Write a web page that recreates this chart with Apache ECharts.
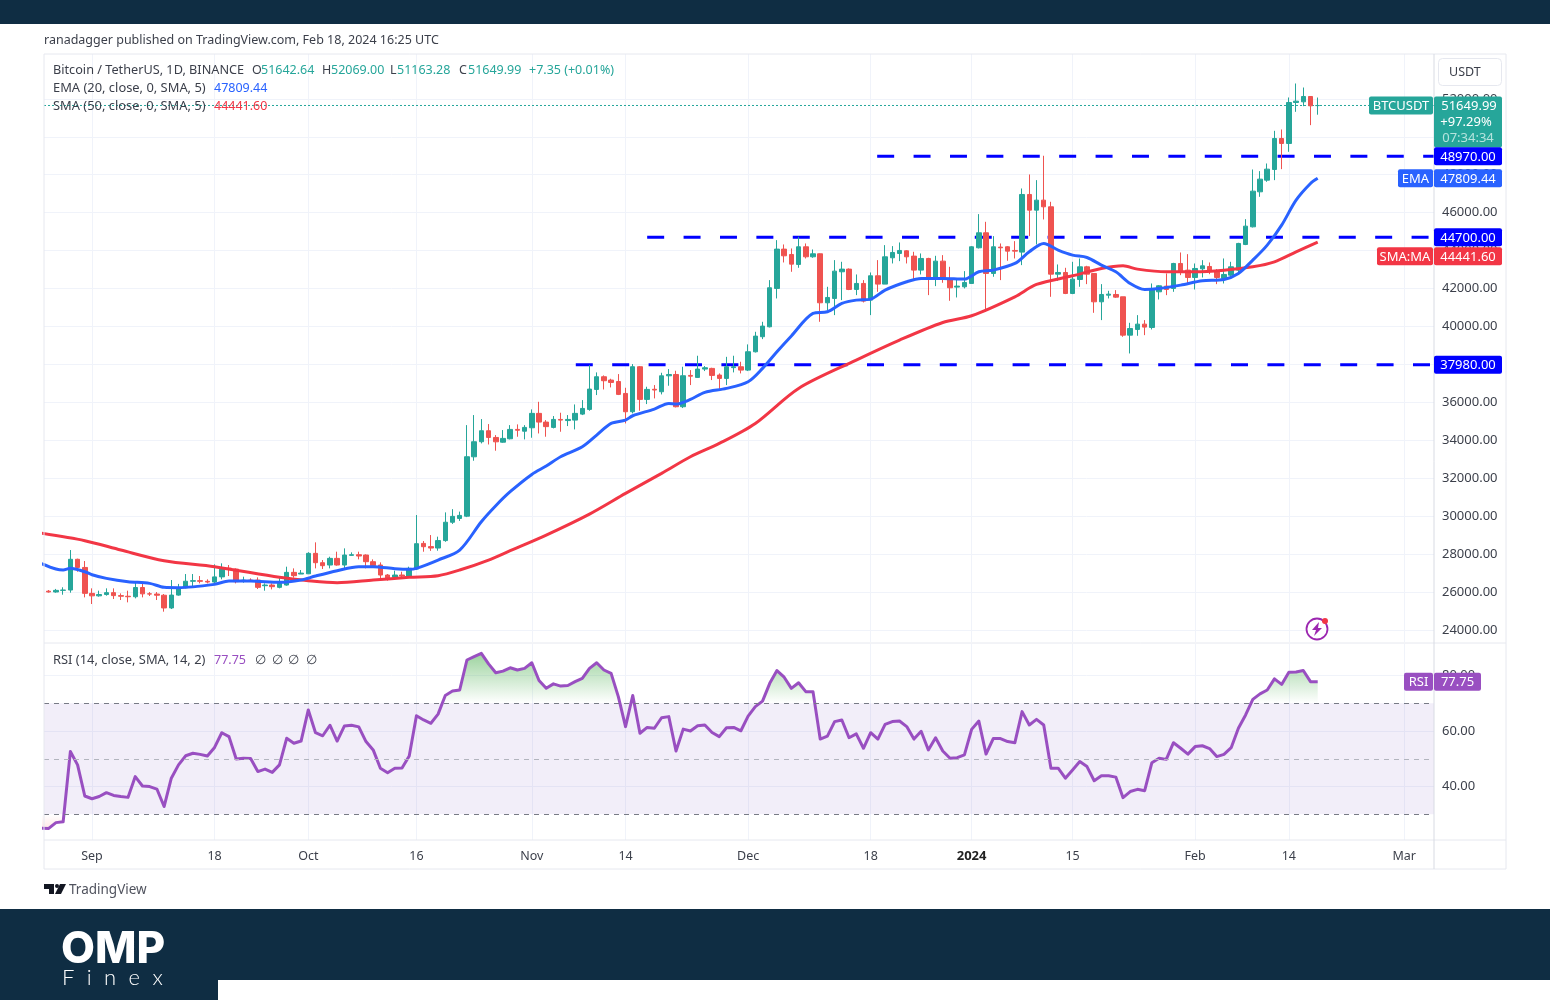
<!DOCTYPE html>
<html lang="en">
  <head>
    <meta charset="UTF-8" />
    <title>BTCUSDT daily</title>
    <script src="https://cdn.jsdelivr.net/npm/echarts@6/dist/echarts.min.js"></script>
    <style>
      * { margin: 0; padding: 0; }
      body { background: #fff; }
      #chart { width: 1550px; height: 1000px; }
    </style>
  </head>
  <body>
    <div id="chart"></div>
    <script>
      /* ---------- data ---------- */
      // first candle is Aug 25 2023, day numbers count from Sep 1
      const firstDay = -7;
      const opens = [
        26163,26047,26004,26089,26106,27727,27297,25931,25800,25869,
        25969,25812,25779,25753,26240,25905,25895,25832,25162,25840,
        26222,26570,26600,26567,26527,26800,27260,27210,26580,26630,
        26630,26335,26370,26248,26370,27038,26950,26962,28040,27548,
        27425,27776,27425,27934,27969,27952,27600,27424,26898,26775,
        26898,26810,27214,28565,28395,28320,28713,29680,29880,30000,
        33130,33924,34504,34150,33900,34080,34574,34480,34660,35420,
        34960,34680,35100,35040,35065,35380,35630,36680,37350,37175,
        37100,36470,35505,37878,36156,36690,36560,37400,37470,35769,
        37420,37315,37755,37790,37440,37262,37830,37877,37700,38666,
        39460,39984,42005,44078,43796,43270,44201,43674,43832,41249,
        41477,42883,43024,41952,42268,41390,42672,42233,43621,43849,
        43990,43709,42971,43586,42479,43445,42532,42075,42092,42268,
        44148,44939,42795,44184,44201,44007,43920,46959,46133,46660,
        46309,42759,42847,41740,42478,43145,42794,41301,41652,41687,
        41565,39543,39843,40124,39948,41828,42126,42004,43321,42970,
        42583,43040,43163,42917,42531,42706,42970,44323,45254,47099,
        47714,48276,49910,49647,51808,51843,52124,51642.64
      ];
      const closes = [
        26047,26004,26089,26106,27727,27297,25931,25800,25869,25969,
        25812,25779,25753,26240,25905,25895,25832,25162,25840,26222,
        26570,26600,26567,26527,26800,27284,27210,26546,26630,26590,
        26248,26370,26283,26458,27038,26863,26998,28040,27548,27390,
        27776,27425,27952,27969,27899,27600,27390,26898,26700,26898,
        26845,27249,28549,28390,28320,28713,29680,29990,30040,33133,
        33924,34504,34150,33920,34100,34574,34530,34680,35420,34960,
        34720,35100,35065,35100,35420,35680,36700,37350,37140,37050,
        36420,35505,37878,36156,36683,36650,37400,37470,35769,37403,
        37380,37755,37825,37420,37262,37877,37877,37700,38668,39492,
        40020,42040,44078,43726,43287,44201,43674,43832,41249,41530,
        42918,43024,41952,42268,41337,42672,42233,43673,43902,44007,
        43673,42971,43586,42479,43445,42532,42040,42128,42321,44201,
        44939,42795,44201,44148,43972,43972,46959,46133,46660,46309,
        42759,42847,41740,42496,43145,42759,41301,41687,41705,41547,
        39543,39895,40124,39966,41951,42144,41951,43321,42847,42583,
        43058,43198,42917,42583,42742,43145,44376,45289,47134,47767,
        48294,49910,49647,51808,51878,52124,51632,51649.99
      ];
      const lows = [
        25777,25970,25965,25860,25967,27073,25720,25369,25756,25809,
        25633,25580,25457,25668,25720,25791,25580,24965,25105,25809,
        26195,26318,26459,26459,26459,26670,26845,26458,26494,26546,
        26160,26072,26142,26195,26335,26757,26950,26950,27249,27214,
        27249,27390,27214,27917,27723,27249,27337,26634,26600,26722,
        26775,26775,27161,28126,28170,28180,28650,29590,29750,29950,
        32922,33836,33780,33450,33870,34047,34188,34047,34135,34360,
        34188,34627,34451,34750,34574,35330,35558,36384,36680,36788,
        36384,34890,35418,35558,35910,36208,36419,36876,35734,35700,
        36911,37300,37649,37175,36700,36911,37579,37526,37649,38630,
        39334,39949,41477,43375,42883,43094,43586,43621,40247,40862,
        40599,41390,41917,41653,41266,40599,41829,42233,43322,43445,
        43322,42497,42742,41653,42128,42303,41354,41530,42005,42268,
        44113,40775,42620,42444,43463,43586,43234,44763,44324,45641,
        41564,42408,41705,41705,42092,42232,40721,40335,41477,41512,
        39456,38578,39509,39543,39843,41424,41652,41828,42706,42267,
        41951,42583,42759,42232,42267,42530,42847,44288,45219,46835,
        47626,47714,48294,49207,51316,51614,50613,51163.28
      ];
      const highs = [
        26314,26107,26165,26252,28215,27760,27635,26195,26072,26195,
        26195,25931,26072,26494,26458,26000,26000,25896,26634,26430,
        26950,26950,26845,26670,27460,27513,27425,27249,26810,26722,
        26775,26458,26458,26810,27337,27249,27161,28100,28620,27688,
        27864,28128,28303,28092,28128,27987,27723,27565,26950,27126,
        27073,27337,30060,28689,29005,28920,30200,30370,30240,34800,
        35330,35120,34855,34275,34540,34800,34838,34800,35629,36030,
        35066,35277,35453,35330,35890,36120,37965,37579,37420,37245,
        37490,36770,38018,37913,36823,36911,37560,37754,37667,37877,
        37700,38457,37913,37825,37526,38400,38457,38140,39055,39720,
        40247,42444,44552,44324,44113,44728,44376,44060,43850,42092,
        43498,43410,43059,42742,42444,42848,43498,44289,44236,44429,
        44025,43937,43849,43621,43726,43761,43146,42479,42918,44236,
        45923,45518,44763,44376,44236,44499,47275,48013,47715,49000,
        46573,43269,43093,43409,43585,43198,42794,42232,41880,41916,
        41565,40194,40598,40335,42267,42179,42794,43356,43901,43813,
        43321,43497,43374,43022,43585,43409,44411,45658,48276,48188,
        48592,50314,50385,52072,52809,52598,52142,52069
      ];

      const emaDays = [-7,-5,-4,-3,-1,0,2,5,8,10,12,17,19,22,26,29,31,34,37,39,42,44,45,48,51,54,56,58,61,63,65,68,70,72,74,75,78,80,81,83,85,88,91,93,95,97,100,102,104,106,108,110,113,115,118,121,123,125,128,130,132,134,136,138,140,142,144,146,148,151,154,157,159,161,163,165,167,169,170];
      const emaValues = [27500,27214,27161,27249,27073,26915,26722,26546,26458,26248,26230,26406,26581,26581,26511,26634,26845,27126,27337,27337,27231,27196,27249,27688,28214,29707,30550,31289,32202,32642,33133,33661,34275,34890,35066,35295,35646,35945,35910,36156,36525,36735,37087,37790,38668,39500,40687,40775,41214,41390,41442,41917,42356,42532,42532,42497,42883,42971,43322,43937,44376,44025,43761,43638,43234,42882,42267,41951,42004,42179,42408,42478,42794,43497,44288,45342,46660,47538,47809.44];
      const smaDays = [-7,-1,4,10,17,26,30,34,39,44,48,51,55,58,63,69,74,79,83,87,92,98,106,112,118,122,128,131,136,140,143,145,149,153,157,161,164,167,170];
      const smaValues = [29100,28708,28215,27653,27337,26775,26599,26494,26634,26775,26863,27160,27687,28179,29005,30111,31201,32255,33133,33836,34890,36735,38227,39281,40212,40564,41565,42215,42672,43058,43198,43023,42882,42882,42970,43146,43409,43936,44441.6];

      // one value per candle
      const rsiValues = [
        25,24.9,27,27.3,52.6,47.8,36.6,35.6,36.4,37.8,
        36.8,36.4,36.1,43.6,40.2,40,39.1,32.8,43,47.8,
        51.1,52,51.6,51,54.1,59.4,58,49.9,50.2,50.1,
        45.4,46.3,45.1,47.8,57.4,55.6,56.4,67.6,59.4,58.3,
        62.1,56.4,61.8,62.1,61.5,56.2,53.2,46.6,45,46.6,
        46.7,51,65.5,64,62.8,66.1,72.8,74.4,74.8,85.6,
        86.8,88,84.2,81,81.6,82.8,82,82.6,84.6,78.2,
        75.4,77,76.2,76.4,77.8,79,82.6,84.6,82,80.8,
        72.4,61.6,72.8,59.2,61.3,61,64.8,65.2,52.8,60.7,
        60,61.9,62.2,59.5,58,61.2,61.3,60.1,65.4,68.8,
        70.8,77.2,81.8,79.4,75.4,77.4,74.2,74.2,57.1,58.2,
        63.4,64,57.6,59,53.8,59.4,57.1,62.4,63.4,63.6,
        61.6,57.1,59.9,53.2,57.6,52.8,50.2,50.4,51.4,60.6,
        63.6,51.7,57.3,57.3,56.2,55.8,67,62.2,64.2,62.2,
        46.6,46.6,43,46,49,47.2,42.1,43.9,43.9,43.4,
        36,38.2,39,38.5,48.6,50.2,49.8,55.8,53.8,51.7,
        54.4,54.7,53.7,50.8,51.6,54,61,65.8,71.4,73.4,
        74.8,78.8,76.8,81.2,81.3,81.8,77.8,77.75
      ];

      const levels = [48970, 44700, 37980];
      const levelStartDays = [108.9, 77, 67.1];
      const lastPrice = 51649.99;
      const emaLast = 47809.44;
      const rsiLast = 77.75;

      const priceTicks = [24000,26000,28000,30000,32000,34000,36000,38000,40000,42000,44000,46000,48000,50000,52000];
      const rsiTicks = [40, 60, 80];
      const timeTickDays = [0, 17, 30, 45, 61, 74, 91, 108, 122, 136, 153, 166, 182];
      const timeTickLabels = ["Sep","18","Oct","16","Nov","14","Dec","18","2024","15","Feb","14","Mar"];

      /* ---------- layout ---------- */
      const FONT = "'Noto Sans', sans-serif";
      const TEXT = "#3b3f4a";
      const UP = "#26a69a";
      const DOWN = "#ef5350";
      const GRID = "#f0f3fa";
      const BORDER = "#e6e8ef";
      const NAVY = "#0f2d43";
      const PURPLE = "#994fc1";
      const PANE_L = 44, PANE_R = 1434, AXIS_R = 1506;
      const MAIN_T = 54, MAIN_B = 642, RSI_T = 644, RSI_B = 840, FRAME_B = 869;
      const X_MIN = -6.657, X_MAX = 186.13;

      const days = opens.map((_, i) => firstDay + i);
      const candles = days.map((d, i) => [d, opens[i], closes[i], lows[i], highs[i]]);
      const zip = (xs, ys) => xs.map((x, i) => [x, ys[i]]);

      const chart = echarts.init(document.getElementById("chart"), null, { renderer: "canvas" });

      const timeLabel = (v) => {
        const s = timeTickLabels[timeTickDays.indexOf(v)];
        return s === "2024" ? "{b|2024}" : s;
      };

      const levelSeries = levels.map((v, i) => ({
        type: "line",
        xAxisIndex: 0,
        yAxisIndex: 0,
        silent: true,
        symbol: "none",
        z: 1,
        lineStyle: { color: "#0000ff", width: 3, type: [17, 19.4] },
        data: [[levelStartDays[i], v], [X_MAX, v]],
      }));

      const option = {
        animation: false,
        backgroundColor: "#fff",
        textStyle: { fontFamily: FONT },
        grid: [
          { left: PANE_L, right: 1550 - PANE_R, top: MAIN_T, height: MAIN_B - MAIN_T },
          { left: PANE_L, right: 1550 - PANE_R, top: RSI_T, height: RSI_B - RSI_T },
        ],
        xAxis: [
          {
            type: "value", gridIndex: 0, min: X_MIN, max: X_MAX,
            axisLine: { show: false },
            axisTick: { show: false, customValues: timeTickDays },
            axisLabel: { show: false, customValues: timeTickDays },
            splitLine: { show: true, lineStyle: { color: GRID, width: 1 } },
          },
          {
            type: "value", gridIndex: 1, min: X_MIN, max: X_MAX,
            axisLine: { show: false },
            axisTick: { show: false, customValues: timeTickDays },
            axisLabel: {
              customValues: timeTickDays, formatter: timeLabel,
              color: TEXT, fontSize: 12.5, fontFamily: FONT, margin: 10,
              showMinLabel: true, showMaxLabel: true,
              rich: { b: { fontWeight: "bold", fontSize: 13, color: "#222", fontFamily: FONT } },
            },
            splitLine: { show: true, lineStyle: { color: GRID, width: 1 } },
          },
        ],
        yAxis: [
          {
            type: "value", gridIndex: 0, position: "right", min: 23367, max: 54364,
            axisLine: { show: false },
            axisTick: { show: false, customValues: priceTicks },
            axisLabel: {
              customValues: priceTicks, formatter: (v) => v.toFixed(2),
              color: TEXT, fontSize: 13, fontFamily: FONT, margin: 8, padding: [2, 0, 0, 0],
            },
            splitLine: { show: true, lineStyle: { color: GRID, width: 1 } },
          },
          {
            type: "value", gridIndex: 1, position: "right", min: 20.74, max: 91.37,
            axisLine: { show: false },
            axisTick: { show: false, customValues: rsiTicks },
            axisLabel: {
              customValues: rsiTicks, formatter: (v) => v.toFixed(2),
              color: TEXT, fontSize: 13, fontFamily: FONT, margin: 8, padding: [2, 0, 0, 0],
            },
            splitLine: { show: true, lineStyle: { color: GRID, width: 1 } },
          },
        ],
        series: [
          ...levelSeries,
          {
            // last price line
            type: "line", xAxisIndex: 0, yAxisIndex: 0, silent: true, symbol: "none", z: 1,
            lineStyle: { color: UP, width: 1, type: [2, 2] },
            data: [[X_MIN, lastPrice], [X_MAX, lastPrice]],
          },
          {
            name: "Price", type: "candlestick", xAxisIndex: 0, yAxisIndex: 0, z: 2,
            barWidth: 5, data: candles,
            itemStyle: { color: UP, borderColor: UP, color0: DOWN, borderColor0: DOWN, borderWidth: 1 },
          },
          {
            name: "SMA 50", type: "line", xAxisIndex: 0, yAxisIndex: 0, z: 3, symbol: "none",
            smooth: 0.3, lineStyle: { color: "#f23645", width: 3 }, data: zip(smaDays, smaValues),
          },
          {
            name: "EMA 20", type: "line", xAxisIndex: 0, yAxisIndex: 0, z: 4, symbol: "none",
            smooth: 0.3, lineStyle: { color: "#2962ff", width: 3 }, data: zip(emaDays, emaValues),
          },
          {
            name: "RSI", type: "line", xAxisIndex: 1, yAxisIndex: 1, z: 3, symbol: "none",
            lineStyle: { color: PURPLE, width: 3, join: "round" },
            data: zip(days, rsiValues),
            areaStyle: {
              origin: 70, opacity: 1,
              color: {
                type: "linear", global: true, x: 0, y: RSI_T, x2: 0, y2: RSI_B,
                colorStops: [
                  { offset: 0, color: "rgba(76,175,80,0.6)" },
                  { offset: 0.05, color: "rgba(76,175,80,0.55)" },
                  { offset: 0.302, color: "rgba(76,175,80,0)" },
                  { offset: 0.869, color: "rgba(255,82,82,0)" },
                  { offset: 1, color: "rgba(255,82,82,0.25)" },
                ],
              },
            },
            markArea: {
              silent: true,
              itemStyle: { color: "rgba(126,87,194,0.1)" },
              data: [[{ yAxis: 70, x: PANE_L }, { yAxis: 30, x: PANE_R }]],
            },
            markLine: {
              silent: true, symbol: "none", label: { show: false },
              lineStyle: { color: "#787b86", width: 1, type: [5, 5] },
              data: [
                { yAxis: 70 },
                { yAxis: 50, lineStyle: { color: "#b2b5be", width: 1, type: [5, 5] } },
                { yAxis: 30 },
              ],
            },
          },
        ],
      };
      chart.setOption(option);

      /* ---------- frame, legends and price tags ---------- */
      const rect = (x, y, w, h, fill, z = 50, r = 0) => ({
        type: "rect", z, silent: true, shape: { x, y, width: w, height: h, r }, style: { fill },
      });
      const text = (x, y, s, opts = {}) => ({
        type: "text", z: opts.z || 60, silent: true, x, y: y + 1,
        style: {
          text: s, fill: opts.fill || TEXT, fontFamily: opts.family || FONT,
          fontSize: opts.size || 12.5, fontWeight: opts.weight || "normal",
          align: opts.align || "left", verticalAlign: "middle",
        },
      });
      const line = (x1, y1, x2, y2, stroke = BORDER, lineWidth = 1) => ({
        type: "line", z: 40, silent: true, shape: { x1, y1, x2, y2 }, style: { stroke, lineWidth },
      });
      const tagText = (x, y, s, fill = "#fff") =>
        text(x, y, s, { fill, align: "center", z: 71, size: 13 });

      const priceY = (v) => chart.convertToPixel({ yAxisIndex: 0 }, v);
      const rsiY = (v) => chart.convertToPixel({ yAxisIndex: 1 }, v);

      // value box on the price scale, with an optional name box to its left
      const tag = (y, value, color, name, nameW, boxW = 68) => {
        const els = [
          rect(1434, y - 9, boxW, 18, color, 70, 2),
          tagText(1434 + boxW / 2, y - 0.5, value),
        ];
        if (name) {
          els.push(rect(1433 - nameW, y - 9, nameW, 18, color, 70, 2));
          els.push(tagText(1433 - nameW / 2, y - 0.5, name));
        }
        return els;
      };

      const lastY = priceY(lastPrice);
      const elements = [
        // page chrome
        rect(0, 0, 1550, 24, NAVY),
        rect(0, 909, 1550, 91, NAVY),
        rect(218, 980, 1332, 20, "#fff"),
        text(44, 39.5, "ranadagger published on TradingView.com, Feb 18, 2024 16:25 UTC"),

        // chart frame
        line(PANE_L, MAIN_T, AXIS_R, MAIN_T),
        line(PANE_L, MAIN_T, PANE_L, FRAME_B),
        line(AXIS_R, MAIN_T, AXIS_R, FRAME_B),
        line(PANE_L, FRAME_B, AXIS_R, FRAME_B),
        line(PANE_L, 643, AXIS_R, 643),
        line(PANE_L, RSI_B, AXIS_R, RSI_B),
        line(PANE_R, MAIN_T, PANE_R, FRAME_B, "#d8dbe3"),

        // legend
        text(53, 69.5, "Bitcoin / TetherUS, 1D, BINANCE", { size: 12.7 }),
        text(252, 69.5, "O"), text(261, 69.5, "51642.64", { fill: UP }),
        text(322, 69.5, "H"), text(331, 69.5, "52069.00", { fill: UP }),
        text(390, 69.5, "L"), text(397, 69.5, "51163.28", { fill: UP }),
        text(459, 69.5, "C"), text(468, 69.5, "51649.99", { fill: UP }),
        text(529, 69.5, "+7.35 (+0.01%)", { fill: UP }),
        text(53, 87.5, "EMA (20, close, 0, SMA, 5)", { size: 12.9 }),
        text(214, 87.5, "47809.44", { fill: "#2962ff" }),
        text(53, 105.5, "SMA (50, close, 0, SMA, 5)", { size: 12.9 }),
        text(214, 105.5, "44441.60", { fill: "#f23645" }),
        text(53, 659.5, "RSI (14, close, SMA, 14, 2)", { size: 12.9 }),
        text(214, 659.5, "77.75", { fill: PURPLE }),
        text(260, 659.5, "∅", { align: "center" }),
        text(277, 659.5, "∅", { align: "center" }),
        text(293, 659.5, "∅", { align: "center" }),
        text(311, 659.5, "∅", { align: "center" }),

        // currency button
        { type: "rect", z: 60, silent: true, shape: { x: 1438.5, y: 58.5, width: 63, height: 27, r: 4 },
          style: { fill: "#fff", stroke: "#e6e8ef", lineWidth: 1 } },
        text(1449, 71.5, "USDT"),

        // last price block
        rect(1369, lastY - 9, 64, 18, UP, 70, 2),
        tagText(1401, lastY - 0.5, "BTCUSDT"),
        rect(1434, lastY - 9, 68, 51, UP, 70, 2),
        tagText(1469, lastY - 0.5, "51649.99"),
        tagText(1466, lastY + 15.5, "+97.29%"),
        tagText(1468, lastY + 31.5, "07:34:34", "#b5e3dd"),

        ...tag(priceY(levels[0]), "48970.00", "#0000ff"),
        ...tag(priceY(emaLast), "47809.44", "#2962ff", "EMA", 35),
        ...tag(priceY(levels[1]), "44700.00", "#0000ff"),
        // pushed below the 44700 box, as on the reference
        ...tag(priceY(levels[1]) + 19, "44441.60", "#f23645", "SMA:MA", 56),
        ...tag(priceY(levels[2]), "37980.00", "#0000ff"),
        ...tag(rsiY(rsiLast), "77.75", PURPLE, "RSI", 29, 47),

        // lightning badge
        { type: "circle", z: 60, silent: true, shape: { cx: 1317, cy: 629, r: 10.5 },
          style: { fill: "#fff", stroke: "#9c27b0", lineWidth: 1.8 } },
        { type: "polygon", z: 61, silent: true,
          shape: { points: [[1319, 622], [1312, 630], [1316, 630], [1314, 636], [1322, 628], [1318, 628]] },
          style: { fill: "#9c27b0" } },
        { type: "circle", z: 62, silent: true, shape: { cx: 1325, cy: 621, r: 3 }, style: { fill: "#f23645" } },

        // TradingView mark
        { type: "polygon", z: 60, silent: true,
          shape: { points: [[44, 884], [54, 884], [54, 894], [49, 894], [49, 889], [44, 889]] }, style: { fill: "#131722" } },
        { type: "polygon", z: 60, silent: true,
          shape: { points: [[60, 884], [66, 884], [61, 894], [55, 894]] }, style: { fill: "#131722" } },
        { type: "circle", z: 60, silent: true, shape: { cx: 57, cy: 886, r: 2 }, style: { fill: "#131722" } },
        text(69, 889, "TradingView", { size: 13.5, fill: "#50535e" }),

        // site logo
        text(61, 949, "OMP", { size: 44, weight: 800, fill: "#fff", family: "Inter, sans-serif" }),
        text(62, 977, "F\u2002\u200Ai\u2002\u200An\u2002\u200Ae\u2002\u200Ax", { size: 22, weight: 300, fill: "#fff", family: "Lato, sans-serif" }),
      ];
      chart.setOption({ graphic: { elements } });
    </script>
  </body>
</html>
